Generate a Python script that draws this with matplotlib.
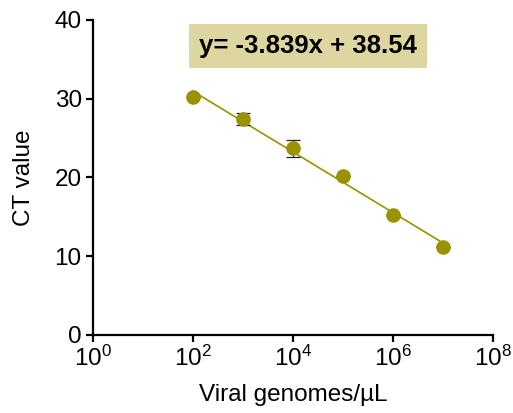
import numpy as np
import matplotlib
matplotlib.use('Agg')
from matplotlib import pyplot

OLIVE = '#9a9200'
BOX = '#ddd6a0'

genomes = [1e2, 1e3, 1e4, 1e5, 1e6, 1e7]
ct = [30.15, 27.4, 23.7, 20.2, 15.2, 11.2]
ct_err = [0, 0.8, 1.1, 0, 0, 0]
xticks = [1e0, 1e2, 1e4, 1e6, 1e8]
xtick_labels = ['0', '2', '4', '6', '8']
yticks = [0, 10, 20, 30, 40]
equation = 'y= -3.839x + 38.54'

pyplot.rcParams['font.family'] = ['Liberation Sans', 'DejaVu Sans']
pyplot.rcParams['mathtext.fontset'] = 'custom'
pyplot.rcParams['mathtext.rm'] = 'Liberation Sans'

fig = pyplot.figure(figsize=(5.13, 4.13), dpi=100)
ax = fig.add_axes([0.181, 0.189, 0.780, 0.763])

# linear fit on log scale
slope, icpt = np.polyfit(np.log10(genomes), ct, 1)
xfit = np.array([genomes[0], genomes[-1]])
ax.plot(xfit, slope * np.log10(xfit) + icpt, color=OLIVE, lw=1.2, zorder=2)

ax.errorbar(genomes, ct, yerr=ct_err, fmt='none', ecolor='#222222', elinewidth=0.9,
            capsize=4.8, capthick=0.9, zorder=3)
ax.plot(genomes, ct, 'o', color=OLIVE, markersize=9.5, zorder=4)

ax.set_xscale('log')
ax.set_xlim(1e0, 1e8)
ax.set_ylim(0, 40)
ax.set_xticks(xticks)
ax.set_xticklabels(['$\\mathregular{10^{%s}}$' % t for t in xtick_labels])
ax.minorticks_off()
ax.set_yticks(yticks)

for s in ['top', 'right']:
    ax.spines[s].set_visible(False)
for s in ['left', 'bottom']:
    ax.spines[s].set_linewidth(1.6)
ax.tick_params(width=1.6, length=5, labelsize=17.5, pad=3)

ax.set_xlabel('Viral genomes/\u00b5L', fontsize=17.5, labelpad=9)
ax.set_ylabel('CT value', fontsize=17.5, labelpad=14)

ax.text(0.5375, 0.917, equation, transform=ax.transAxes, ha='center', va='center',
        fontsize=18.5, fontweight='bold',
        bbox={'facecolor': BOX, 'edgecolor': 'none', 'pad': 7})

fig.savefig('out.png', dpi=100)
